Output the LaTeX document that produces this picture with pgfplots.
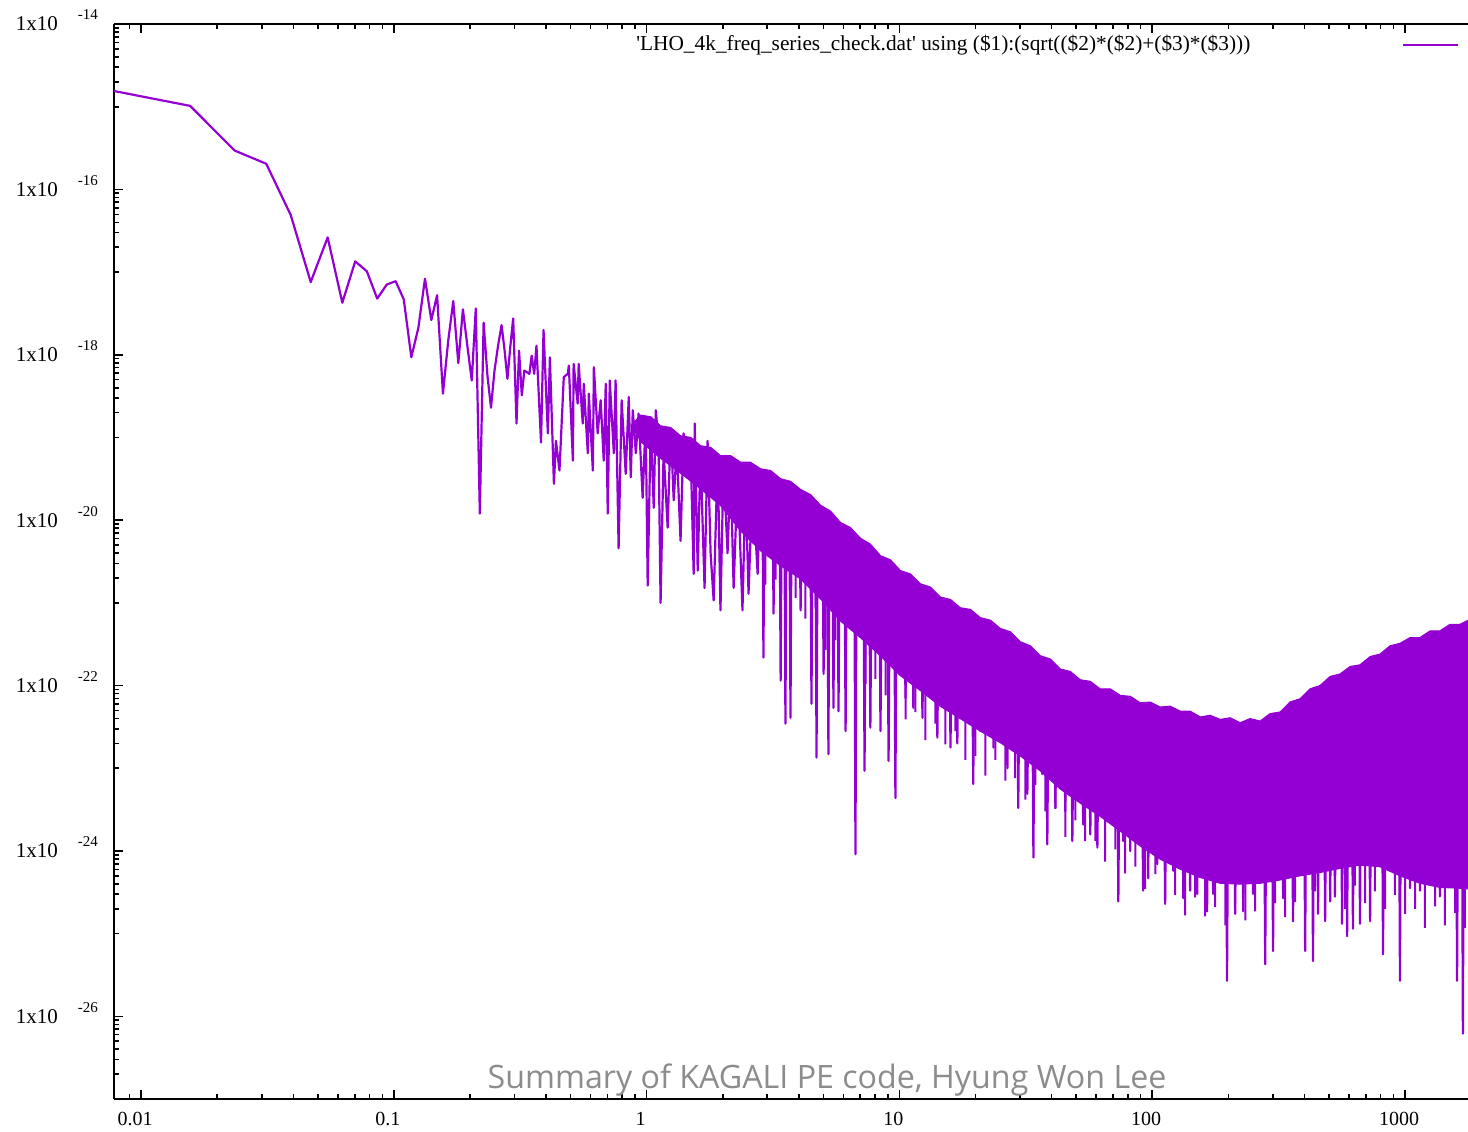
\documentclass[border=0pt]{standalone}
\usepackage{pgfplots}
\usepackage{pgfplotstable}
\pgfplotsset{compat=1.18}
\usepackage{fontspec}
\setmainfont{Liberation Serif}
\newfontfamily\wmfont{Open Sans}
\definecolor{gpv}{RGB}{148,0,211}
\definecolor{wmgray}{RGB}{140,140,140}
\newcommand{\ylab}[1]{1x10\hspace{10pt}\raisebox{5.5pt}[0pt][0pt]{\fontsize{7.5}{8}\selectfont #1}}

% lx = log10(frequency), ly = log10(amplitude)
\pgfplotstableread{
lx ly
-2.107 -14.81
-1.806 -14.99
-1.630 -15.53
-1.505 -15.69
-1.408 -16.31
-1.329 -17.12
-1.262 -16.58
-1.204 -17.37
-1.153 -16.87
-1.107 -16.99
-1.066 -17.32
-1.028 -17.15
-0.993 -17.11
-0.961 -17.33
-0.931 -18.03
-0.903 -17.67
-0.877 -17.08
-0.852 -17.58
-0.829 -17.28
-0.806 -18.47
-0.785 -17.83
-0.765 -17.35
-0.745 -18.10
-0.727 -17.45
-0.709 -17.90
-0.692 -18.31
-0.676 -17.44
-0.660 -19.92
-0.645 -17.61
-0.630 -18.25
-0.616 -18.64
-0.602 -18.19
-0.588 -17.89
-0.574 -17.64
-0.562 -17.95
-0.551 -18.29
-0.539 -17.89
-0.528 -17.56
-0.515 -18.83
-0.505 -17.95
-0.494 -18.49
-0.484 -18.19
-0.464 -18.23
-0.455 -18.01
-0.445 -18.23
-0.436 -17.89
-0.418 -19.06
-0.408 -17.70
-0.391 -18.95
-0.383 -18.03
-0.367 -19.56
-0.359 -19.04
-0.345 -19.40
-0.328 -18.27
-0.312 -18.23
-0.308 -18.13
-0.292 -19.28
-0.289 -18.11
-0.273 -18.59
-0.269 -18.11
-0.253 -18.83
-0.249 -18.35
-0.233 -19.19
-0.229 -18.47
-0.213 -19.40
-0.209 -18.15
-0.194 -18.95
-0.182 -18.55
-0.170 -19.28
-0.162 -18.35
-0.154 -19.92
-0.146 -18.31
-0.130 -19.19
-0.123 -18.31
-0.111 -20.34
-0.099 -18.55
-0.083 -19.44
-0.071 -18.51
-0.063 -19.48
-0.055 -18.67
-0.043 -19.19
-0.032 -18.71
-0.016 -19.73
-0.004 -18.79
0.004 -20.79
0.016 -18.87
0.028 -19.85
0.036 -18.67
0.047 -19.04
0.055 -21.00
0.067 -19.16
0.083 -20.09
0.095 -18.89
0.107 -19.76
0.119 -19.12
0.134 -20.25
0.146 -18.95
0.162 -19.44
0.174 -19.16
0.186 -20.65
0.190 -18.83
0.202 -20.61
0.213 -19.19
0.229 -20.82
0.241 -19.04
0.253 -20.40
0.265 -20.97
0.281 -19.24
0.292 -21.09
0.304 -19.32
0.320 -20.40
0.332 -19.36
0.344 -20.82
0.360 -19.44
0.379 -21.09
0.391 -19.56
0.403 -20.89
0.419 -19.53
0.439 -20.65
0.451 -19.44
0.458 -19.70
0.462 -21.66
0.466 -19.70
0.498 -19.80
0.502 -21.13
0.506 -19.80
0.526 -19.85
0.530 -21.94
0.534 -19.85
0.545 -19.90
0.549 -22.46
0.553 -19.90
0.565 -19.95
0.569 -22.39
0.573 -19.95
0.605 -20.05
0.609 -21.09
0.613 -20.05
0.648 -20.15
0.652 -22.22
0.656 -20.15
0.668 -20.20
0.672 -22.87
0.676 -20.20
0.696 -20.25
0.700 -21.86
0.704 -20.25
0.715 -20.30
0.719 -22.83
0.723 -20.30
0.735 -20.35
0.739 -22.27
0.743 -20.35
0.755 -20.40
0.759 -22.31
0.763 -20.40
0.783 -20.50
0.787 -22.55
0.791 -20.50
0.822 -20.60
0.826 -24.04
0.830 -20.60
0.858 -20.70
0.862 -23.03
0.866 -20.70
0.881 -20.80
0.885 -22.51
0.889 -20.80
0.921 -20.90
0.925 -22.55
0.929 -20.90
0.953 -21.00
0.957 -22.91
0.961 -21.00
0.980 -21.10
0.984 -23.36
0.988 -21.10
1.020 -21.20
1.024 -22.15
1.028 -21.20
1.051 -21.25
1.055 -22.27
1.059 -21.25
1.087 -21.35
1.091 -22.39
1.095 -21.35
1.146 -21.45
1.150 -22.63
1.154 -21.45
1.198 -21.55
1.202 -22.75
1.206 -21.55
1.225 -21.60
1.229 -22.70
1.233 -21.60
1.288 -21.75
1.292 -23.19
1.296 -21.75
1.316 -21.80
1.320 -22.55
1.324 -21.80
1.368 -21.90
1.372 -22.75
1.376 -21.90
1.423 -22.00
1.427 -23.00
1.431 -22.00
1.466 -22.10
1.470 -23.48
1.474 -22.10
1.502 -22.20
1.506 -23.31
1.510 -22.20
1.526 -22.25
1.530 -24.08
1.534 -22.25
1.561 -22.35
1.565 -23.07
1.569 -22.35
1.581 -22.40
1.585 -23.92
1.589 -22.40
1.613 -22.45
1.617 -23.48
1.621 -22.45
1.652 -22.55
1.656 -23.52
1.660 -22.55
1.680 -22.60
1.684 -23.88
1.688 -22.60
1.700 -22.65
1.704 -23.36
1.708 -22.65
1.723 -22.70
1.727 -23.68
1.731 -22.70
1.751 -22.75
1.755 -23.80
1.759 -22.75
1.779 -22.80
1.783 -23.96
1.787 -22.80
1.818 -22.85
1.822 -23.64
1.826 -22.85
1.862 -22.90
1.866 -24.61
1.870 -22.90
1.881 -22.95
1.885 -23.88
1.889 -22.95
1.909 -23.00
1.913 -24.00
1.917 -23.00
1.960 -23.10
1.964 -24.48
1.968 -23.10
1.980 -23.10
1.984 -24.33
1.988 -23.10
2.016 -23.15
2.020 -24.16
2.024 -23.15
2.047 -23.20
2.051 -24.64
2.055 -23.20
2.079 -23.25
2.083 -24.24
2.087 -23.25
2.119 -23.30
2.123 -24.57
2.127 -23.30
2.146 -23.30
2.150 -24.48
2.154 -23.30
2.174 -23.35
2.178 -24.52
2.182 -23.35
2.213 -23.40
2.217 -24.73
2.221 -23.40
2.237 -23.40
2.241 -24.52
2.245 -23.40
2.292 -23.40
2.296 -25.57
2.300 -23.40
2.324 -23.45
2.328 -24.76
2.332 -23.45
2.356 -23.45
2.360 -24.73
2.364 -23.45
2.395 -23.45
2.399 -24.52
2.403 -23.45
2.443 -23.40
2.447 -25.37
2.451 -23.40
2.474 -23.40
2.478 -25.21
2.482 -23.40
2.514 -23.35
2.518 -24.57
2.522 -23.35
2.553 -23.30
2.557 -24.85
2.561 -23.30
2.601 -23.20
2.605 -25.21
2.609 -23.20
2.632 -23.15
2.636 -25.33
2.640 -23.15
2.652 -23.15
2.656 -24.76
2.660 -23.15
2.680 -23.10
2.684 -24.85
2.688 -23.10
2.700 -23.10
2.704 -24.61
2.708 -23.10
2.719 -23.05
2.723 -24.52
2.727 -23.05
2.747 -23.05
2.751 -24.88
2.755 -23.05
2.767 -23.00
2.771 -25.03
2.775 -23.00
2.790 -23.00
2.794 -24.94
2.798 -23.00
2.818 -22.95
2.822 -24.88
2.826 -22.95
2.858 -22.95
2.862 -24.85
2.866 -22.95
2.909 -22.90
2.913 -25.25
2.917 -22.90
2.976 -22.90
2.980 -25.57
2.984 -22.90
3.016 -22.90
3.020 -24.45
3.024 -22.90
3.055 -22.90
3.059 -24.48
3.063 -22.90
3.134 -22.90
3.138 -24.55
3.142 -22.90
3.202 -22.90
3.206 -25.57
3.210 -22.90
3.225 -22.90
3.229 -26.21
3.233 -22.90
}\spectrum

% shorter spikes below the dense band (mid of band, tip, mid of band)
\pgfplotstableread{
lx ly
0.470 -20.27
0.470 -20.78
0.470 -20.27
0.510 -20.35
0.510 -20.72
0.510 -20.35
0.549 -20.44
0.549 -21.07
0.549 -20.44
0.589 -20.52
0.589 -20.94
0.589 -20.52
0.628 -20.62
0.628 -21.19
0.628 -20.62
0.668 -20.74
0.668 -21.07
0.668 -20.74
0.708 -20.87
0.708 -21.57
0.708 -20.87
0.747 -20.99
0.747 -21.45
0.747 -20.99
0.787 -21.11
0.787 -21.72
0.787 -21.11
0.826 -21.22
0.826 -21.62
0.826 -21.22
0.866 -21.32
0.866 -21.98
0.866 -21.32
0.905 -21.43
0.905 -21.92
0.905 -21.43
0.945 -21.55
0.945 -22.12
0.945 -21.55
0.984 -21.67
0.984 -22.04
0.984 -21.67
1.024 -21.78
1.024 -22.41
1.024 -21.78
1.063 -21.87
1.063 -22.32
1.063 -21.87
1.103 -21.96
1.103 -22.66
1.103 -21.96
1.142 -22.05
1.142 -22.46
1.142 -22.05
1.182 -22.13
1.182 -22.71
1.182 -22.13
1.221 -22.22
1.221 -22.55
1.221 -22.22
1.261 -22.29
1.261 -22.90
1.261 -22.29
1.300 -22.36
1.300 -22.85
1.300 -22.36
1.340 -22.43
1.340 -23.09
1.340 -22.43
1.379 -22.51
1.379 -22.90
1.379 -22.51
1.419 -22.58
1.419 -23.15
1.419 -22.58
1.458 -22.66
1.458 -23.12
1.458 -22.66
1.498 -22.75
1.498 -23.38
1.498 -22.75
1.538 -22.83
1.538 -23.20
1.538 -22.83
1.577 -22.93
1.577 -23.52
1.577 -22.93
1.617 -23.04
1.617 -23.49
1.617 -23.04
1.656 -23.15
1.656 -23.83
1.656 -23.15
1.696 -23.23
1.696 -23.63
1.696 -23.23
1.735 -23.31
1.735 -23.88
1.735 -23.31
1.775 -23.39
1.775 -23.88
1.775 -23.39
1.814 -23.48
1.814 -24.13
1.814 -23.48
1.854 -23.56
1.854 -23.98
1.854 -23.56
1.893 -23.66
1.893 -24.27
1.893 -23.66
1.933 -23.74
1.933 -24.19
1.933 -23.74
1.972 -23.83
1.972 -24.46
1.972 -23.83
2.012 -23.91
2.012 -24.28
2.012 -23.91
2.051 -23.98
2.051 -24.57
2.051 -23.98
2.091 -24.04
2.091 -24.53
2.091 -24.04
2.130 -24.09
2.130 -24.78
2.130 -24.09
2.170 -24.14
2.170 -24.56
2.170 -24.14
2.209 -24.18
2.209 -24.79
2.209 -24.18
2.249 -24.21
2.249 -24.68
2.249 -24.21
2.289 -24.24
2.289 -24.90
2.289 -24.24
2.328 -24.25
2.328 -24.64
2.328 -24.25
2.368 -24.25
2.368 -24.84
2.368 -24.25
2.407 -24.24
2.407 -24.73
2.407 -24.24
2.447 -24.23
2.447 -24.92
2.447 -24.23
2.486 -24.21
2.486 -24.63
2.486 -24.21
2.526 -24.19
2.526 -24.80
2.526 -24.19
2.565 -24.17
2.565 -24.62
2.565 -24.17
2.605 -24.14
2.605 -24.78
2.605 -24.14
2.644 -24.12
2.644 -24.49
2.644 -24.12
2.684 -24.09
2.684 -24.67
2.684 -24.09
2.723 -24.07
2.723 -24.56
2.723 -24.07
2.763 -24.04
2.763 -24.70
2.763 -24.04
2.802 -24.03
2.802 -24.42
2.802 -24.03
2.842 -24.02
2.842 -24.63
2.842 -24.02
2.881 -24.03
2.881 -24.49
2.881 -24.03
2.921 -24.07
2.921 -24.70
2.921 -24.07
2.960 -24.12
2.960 -24.53
2.960 -24.12
3.000 -24.18
3.000 -24.76
3.000 -24.18
3.040 -24.21
3.040 -24.70
3.040 -24.21
3.079 -24.25
3.079 -24.93
3.079 -24.25
3.119 -24.27
3.119 -24.67
3.119 -24.27
3.158 -24.29
3.158 -24.90
3.158 -24.29
3.198 -24.30
3.198 -24.75
3.198 -24.30
3.237 -24.30
3.237 -24.93
3.237 -24.30
}\spikes

% dense band: upper envelope forward, lower core edge backward (log10 values)
\pgfplotstableread{
lx ly
-0.063 -18.86
-0.024 -18.73
0.016 -18.75
0.055 -18.86
0.095 -18.88
0.134 -18.98
0.174 -19.00
0.213 -19.10
0.253 -19.12
0.292 -19.22
0.332 -19.22
0.372 -19.30
0.411 -19.30
0.451 -19.38
0.490 -19.40
0.530 -19.50
0.569 -19.53
0.609 -19.63
0.648 -19.69
0.688 -19.82
0.727 -19.89
0.767 -20.03
0.806 -20.09
0.846 -20.22
0.885 -20.29
0.925 -20.43
0.964 -20.48
1.004 -20.61
1.043 -20.65
1.083 -20.77
1.123 -20.81
1.162 -20.93
1.202 -20.96
1.241 -21.06
1.281 -21.08
1.320 -21.18
1.360 -21.21
1.399 -21.31
1.439 -21.35
1.478 -21.47
1.518 -21.52
1.557 -21.64
1.597 -21.68
1.636 -21.80
1.676 -21.83
1.715 -21.93
1.755 -21.95
1.794 -22.04
1.834 -22.04
1.874 -22.12
1.913 -22.13
1.953 -22.21
1.992 -22.20
2.032 -22.26
2.071 -22.25
2.111 -22.31
2.150 -22.31
2.190 -22.38
2.229 -22.36
2.269 -22.41
2.308 -22.39
2.348 -22.45
2.387 -22.40
2.427 -22.43
2.466 -22.34
2.506 -22.32
2.545 -22.20
2.585 -22.16
2.625 -22.04
2.664 -22.00
2.704 -21.89
2.743 -21.86
2.783 -21.77
2.822 -21.75
2.862 -21.65
2.901 -21.62
2.941 -21.52
2.980 -21.49
3.020 -21.42
3.059 -21.42
3.099 -21.34
3.138 -21.34
3.178 -21.26
3.217 -21.26
3.257 -21.20
3.257 -24.46
3.217 -24.45
3.138 -24.44
3.059 -24.39
2.980 -24.30
2.901 -24.19
2.822 -24.17
2.743 -24.21
2.664 -24.26
2.585 -24.30
2.506 -24.35
2.427 -24.39
2.348 -24.40
2.269 -24.39
2.190 -24.32
2.111 -24.22
2.032 -24.10
1.953 -23.94
1.874 -23.76
1.794 -23.58
1.715 -23.42
1.636 -23.25
1.557 -23.03
1.478 -22.85
1.399 -22.69
1.320 -22.55
1.241 -22.40
1.162 -22.25
1.083 -22.06
1.004 -21.88
0.925 -21.64
0.846 -21.42
0.767 -21.22
0.688 -20.95
0.609 -20.71
0.530 -20.55
0.451 -20.37
0.372 -20.13
0.292 -19.82
0.213 -19.62
0.134 -19.43
0.055 -19.25
-0.024 -19.05
}\band

\begin{document}
\begin{tikzpicture}
\useasboundingbox (-57pt,-16pt) rectangle (677pt,549.5pt);
\begin{axis}[
  at={(0pt,0pt)}, anchor=south west,
  scale only axis, width=677pt, height=537.5pt,
  xmode=log, ymode=log,
  xmin=0.0078125, xmax=1775, ymin=1e-27, ymax=1e-14,
  axis y line*=left,
  tick align=inside,
  axis line style={black, line width=1pt},
  every tick/.style={black, line width=0.8pt},
  major tick length=4.5pt, minor tick length=2.5pt,
  xtick={0.01,0.1,1,10,100,1000},
  xticklabels={0.01,0.1,1,10,100,1000},
  minor xtick={0.009,0.02,0.03,0.04,0.05,0.06,0.07,0.08,0.09,
    0.2,0.3,0.4,0.5,0.6,0.7,0.8,0.9,2,3,4,5,6,7,8,9,
    20,30,40,50,60,70,80,90,200,300,400,500,600,700,800,900},
  ytick={1e-26,1e-24,1e-22,1e-20,1e-18,1e-16,1e-14},
  yticklabels={\ylab{-26},\ylab{-24},\ylab{-22},\ylab{-20},\ylab{-18},\ylab{-16},\ylab{-14}},
  minor ytick={1e-27,2e-27,3e-27,4e-27,5e-27,6e-27,7e-27,8e-27,9e-27,
    1e-25,2e-25,3e-25,4e-25,5e-25,6e-25,7e-25,8e-25,9e-25,
    1e-23,2e-23,3e-23,4e-23,5e-23,6e-23,7e-23,8e-23,9e-23,
    1e-21,2e-21,3e-21,4e-21,5e-21,6e-21,7e-21,8e-21,9e-21,
    1e-19,2e-19,3e-19,4e-19,5e-19,6e-19,7e-19,8e-19,9e-19,
    1e-17,2e-17,3e-17,4e-17,5e-17,6e-17,7e-17,8e-17,9e-17,
    1e-15,2e-15,3e-15,4e-15,5e-15,6e-15,7e-15,8e-15,9e-15},
  xticklabel style={font=\fontsize{10}{12}\selectfont, yshift=-3pt, xshift=-3pt},
  yticklabel style={font=\fontsize{10.5}{12}\selectfont, anchor=east, xshift=-4.5pt},
  legend plot pos=right,
  legend cell align=right,
  legend style={draw=none, fill=none, at={(rel axis cs:1,1)}, anchor=north east,
    xshift=-4pt, yshift=-3.5pt, inner sep=0pt, column sep=74pt,
    font=\fontsize{10.67}{12}\selectfont},
  legend image code/.code={\draw[#1] (0pt,0pt) -- (27.5pt,0pt);},
]
\addplot[fill=gpv, draw=gpv, line width=0.6pt, forget plot]
  table[x expr={pow(10,\thisrow{lx})}, y expr={pow(10,\thisrow{ly})}] {\band};
\addplot[gpv, line width=1pt, forget plot]
  table[x expr={pow(10,\thisrow{lx})}, y expr={pow(10,\thisrow{ly})}] {\spikes};
\addplot[gpv, line width=1.1pt, line join=round]
  table[x expr={pow(10,\thisrow{lx})}, y expr={pow(10,\thisrow{ly})}] {\spectrum};
\addlegendentry{\textquotesingle LHO\_4k\_freq\_series\_check.dat\textquotesingle{} using (\$1):(sqrt((\$2)*(\$2)+(\$3)*(\$3)))}
\end{axis}
\node[anchor=base, text=wmgray, font=\wmfont\fontsize{16.1}{20}\selectfont] at (356.5pt,5.5pt) {Summary of KAGALI PE code, Hyung Won Lee};
\end{tikzpicture}
\end{document}
